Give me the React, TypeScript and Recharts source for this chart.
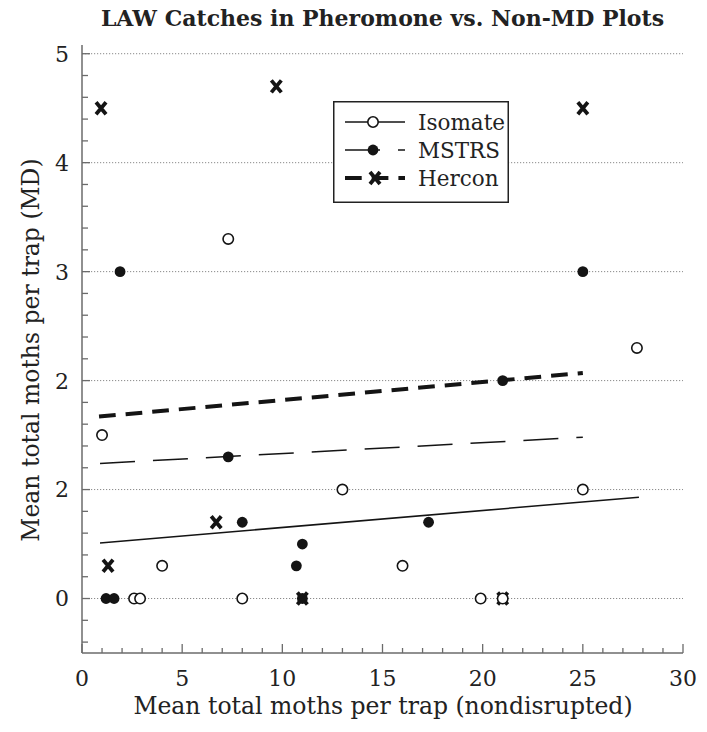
import React from 'react';
import { ScatterChart, Scatter, XAxis, YAxis, ReferenceLine, Legend } from 'recharts';

// ---------- data ----------
const isomateX = [1.0, 7.3, 4.0, 2.6, 2.9, 8.0, 13.0, 16.0, 19.9, 21.0, 25.0, 27.7];
const isomateY = [1.5, 3.3, 0.3, 0, 0, 0, 1.0, 0.3, 0, 0, 1.0, 2.3];

const mstrsX = [1.9, 1.2, 1.6, 7.3, 8.0, 11.0, 10.7, 17.3, 21.0, 25.0, 11.0];
const mstrsY = [3.0, 0, 0, 1.3, 0.7, 0.5, 0.3, 0.7, 2.0, 3.0, 0];

const herconX = [0.95, 9.7, 25.0, 1.3, 6.7, 11.0, 21.0];
const herconY = [4.5, 4.7, 4.5, 0.3, 0.7, 0, 0];

// fitted (regression) line end points
const isomateFitX = [0.9, 27.8];
const isomateFitY = [0.51, 0.93];
const mstrsFitX = [0.9, 25.0];
const mstrsFitY = [1.24, 1.48];
const herconFitX = [0.85, 25.0];
const herconFitY = [1.67, 2.07];

const seriesNames = ['Isomate', 'MSTRS', 'Hercon'];

const xDomain = [0, 30];
const yDomain = [-0.5, 5.08];
const xMajorTicks = [0, 5, 10, 15, 20, 25, 30];
const xTickLabels = ['0', '5', '10', '15', '20', '25', '30'];
const yMajorTicks = [0, 1, 2, 3, 4, 5];
const yTickLabels = ['0', '2', '2', '3', '4', '5'];
const gridValues = [0, 1, 2, 3, 4, 5];

const titleText = 'LAW Catches in Pheromone vs. Non-MD Plots';
const xTitle = 'Mean total moths per trap (nondisrupted)';
const yTitle = 'Mean total moths per trap (MD)';

// minor tick positions
const xTicks = Array.from({ length: 31 }, (_, i) => i);
const yTicks = Array.from({ length: 28 }, (_, i) => Math.round((-0.4 + i * 0.2) * 10) / 10);

const toPoints = (xs: number[], ys: number[]) => xs.map((x, i) => ({ x, y: ys[i] }));

const FONT = "'DejaVu Serif', serif";
const FRAME = '#6b6b6b';
const INK = '#141414';
const TEXT = '#222';

const isInt = (v: number) => Math.abs(v - Math.round(v)) < 1e-6;

const Y_MARGIN = 13;
const X_MARGIN = 20;

const LeftTick = (props: any) => {
  const { x, y, payload } = props;
  const v = payload.value;
  const major = isInt(v);
  const axisX = x + Y_MARGIN;
  const idx = yMajorTicks.indexOf(Math.round(v));
  return (
    <g>
      <line x1={axisX} x2={axisX + (major ? 8 : 6)} y1={y} y2={y} stroke={FRAME} strokeWidth={1.3} />
      {major && idx >= 0 && (
        <text x={x} y={y} dy="0.36em" textAnchor="end" fontFamily={FONT} fontSize={22} fill={TEXT}>
          {yTickLabels[idx]}
        </text>
      )}
    </g>
  );
};

const RightTick = (props: any) => {
  const { x, y, payload } = props;
  const major = isInt(payload.value);
  return <line x1={x} x2={x - (major ? 8 : 6)} y1={y} y2={y} stroke={FRAME} strokeWidth={1.3} />;
};

const BottomTick = (props: any) => {
  const { x, y, payload } = props;
  const v = payload.value;
  const idx = xMajorTicks.indexOf(v);
  const major = idx >= 0;
  const axisY = y - X_MARGIN;
  return (
    <g>
      <line x1={x} x2={x} y1={axisY} y2={axisY - (major ? 9 : 5)} stroke={FRAME} strokeWidth={1.3} />
      {major && (
        <text x={x} y={axisY + 33} textAnchor="middle" fontFamily={FONT} fontSize={22} fill={TEXT}>
          {xTickLabels[idx]}
        </text>
      )}
    </g>
  );
};

const TopTick = (props: any) => {
  const { x, y, payload } = props;
  const major = xMajorTicks.indexOf(payload.value) >= 0;
  return <line x1={x} x2={x} y1={y} y2={y + (major ? 9 : 5)} stroke={FRAME} strokeWidth={1.3} />;
};

const OpenCircle = (props: any) => {
  const { cx, cy } = props;
  return <circle cx={cx} cy={cy} r={5.2} fill="#fff" stroke={INK} strokeWidth={1.6} />;
};

const FilledCircle = (props: any) => {
  const { cx, cy } = props;
  return <circle cx={cx} cy={cy} r={5.4} fill={INK} stroke="none" />;
};

const XMark = (props: any) => {
  const { cx, cy } = props;
  return (
    <path
      d={`M${cx - 5},${cy - 6} L${cx + 5},${cy + 6} M${cx + 5},${cy - 6} L${cx - 5},${cy + 6}`}
      stroke={INK}
      strokeWidth={3.8}
      fill="none"
    />
  );
};

const NoShape = () => <g />;

const LegendBox = () => {
  const rows = [21, 49, 77];
  return (
    <svg width={176} height={102} style={{ display: 'block' }}>
      <rect x={0.75} y={0.75} width={174.5} height={100.5} fill="#fff" stroke="#222" strokeWidth={1.5} />
      {/* Isomate */}
      <line x1={12} x2={72} y1={rows[0]} y2={rows[0]} stroke={INK} strokeWidth={1.5} />
      <circle cx={40} cy={rows[0]} r={5.2} fill="#fff" stroke={INK} strokeWidth={1.6} />
      {/* MSTRS */}
      <line x1={12} x2={72} y1={rows[1]} y2={rows[1]} stroke={INK} strokeWidth={1.5} strokeDasharray="35 18" />
      <circle cx={40} cy={rows[1]} r={5.4} fill={INK} />
      {/* Hercon */}
      <line x1={12} x2={72} y1={rows[2]} y2={rows[2]} stroke={INK} strokeWidth={4} strokeDasharray="16.7 10" />
      <path
        d={`M${37},${rows[2] - 6} L${47},${rows[2] + 6} M${47},${rows[2] - 6} L${37},${rows[2] + 6}`}
        stroke={INK}
        strokeWidth={3.8}
      />
      {seriesNames.map((n, i) => (
        <text key={n} x={85} y={rows[i] + 7.5} fontFamily={FONT} fontSize={21.5} fill={TEXT}>
          {n}
        </text>
      ))}
    </svg>
  );
};

export default function App() {
  return (
    <div style={{ position: 'absolute', left: 0, top: 0 }}>
      <ScatterChart width={707} height={732} margin={{ top: 45, right: 24, bottom: 0, left: 0 }}>
        <XAxis
          xAxisId="b"
          type="number"
          dataKey="x"
          domain={xDomain}
          allowDataOverflow
          ticks={xTicks}
          interval={0}
          tickSize={0}
          tickMargin={X_MARGIN}
          tickLine={false}
          tick={<BottomTick />}
          axisLine={{ stroke: FRAME, strokeWidth: 1.5 }}
          height={79}
        />
        <XAxis
          xAxisId="t"
          orientation="top"
          type="number"
          dataKey="x"
          domain={xDomain}
          allowDataOverflow
          ticks={xTicks}
          interval={0}
          tickSize={0}
          tickMargin={0}
          tickLine={false}
          tick={<TopTick />}
          axisLine={{ stroke: FRAME, strokeWidth: 1.5 }}
          height={0}
        />
        <YAxis
          yAxisId="l"
          type="number"
          dataKey="y"
          domain={yDomain}
          allowDataOverflow
          ticks={yTicks}
          interval={0}
          tickSize={0}
          tickMargin={Y_MARGIN}
          tickLine={false}
          tick={<LeftTick />}
          axisLine={{ stroke: FRAME, strokeWidth: 1.5 }}
          width={82}
        />
        <YAxis
          yAxisId="r"
          orientation="right"
          type="number"
          dataKey="y"
          domain={yDomain}
          allowDataOverflow
          ticks={yTicks}
          interval={0}
          tickSize={0}
          tickMargin={0}
          tickLine={false}
          tick={<RightTick />}
          axisLine={{ stroke: FRAME, strokeWidth: 1.5 }}
          width={0}
        />
        {gridValues.map((g) => (
          <ReferenceLine
            key={g}
            y={g}
            xAxisId="b"
            yAxisId="l"
            stroke="#8a8a8a"
            strokeWidth={1}
            strokeDasharray="1.2 1.8"
          />
        ))}
        <Scatter
          name="Isomate fit"
          xAxisId="t"
          yAxisId="r"
          data={toPoints(isomateFitX, isomateFitY)}
          shape={<NoShape />}
          line={{ stroke: INK, strokeWidth: 1.5 }}
          legendType="none"
          isAnimationActive={false}
        />
        <Scatter
          name="MSTRS fit"
          xAxisId="t"
          yAxisId="r"
          data={toPoints(mstrsFitX, mstrsFitY)}
          shape={<NoShape />}
          line={{ stroke: INK, strokeWidth: 1.5, strokeDasharray: '35 18' }}
          legendType="none"
          isAnimationActive={false}
        />
        <Scatter
          name="Hercon fit"
          xAxisId="t"
          yAxisId="r"
          data={toPoints(herconFitX, herconFitY)}
          shape={<NoShape />}
          line={{ stroke: INK, strokeWidth: 4, strokeDasharray: '16.7 10' }}
          legendType="none"
          isAnimationActive={false}
        />
        <Scatter
          name={seriesNames[2]}
          xAxisId="b"
          yAxisId="l"
          data={toPoints(herconX, herconY)}
          shape={<XMark />}
          isAnimationActive={false}
        />
        <Scatter
          name={seriesNames[1]}
          xAxisId="b"
          yAxisId="l"
          data={toPoints(mstrsX, mstrsY)}
          shape={<FilledCircle />}
          isAnimationActive={false}
        />
        <Scatter
          name={seriesNames[0]}
          xAxisId="b"
          yAxisId="l"
          data={toPoints(isomateX, isomateY)}
          shape={<OpenCircle />}
          isAnimationActive={false}
        />
        <Legend
          verticalAlign="middle"
          align="center"
          layout="horizontal"
          wrapperStyle={{ left: 333, top: 101, width: 176, height: 102 }}
          content={() => <LegendBox />}
        />
        <text x={382.5} y={26} textAnchor="middle" fontFamily={FONT} fontWeight="bold" fontSize={22} fill={TEXT}>
          {titleText}
        </text>
        <text x={383} y={714} textAnchor="middle" fontFamily={FONT} fontSize={23.5} fill={TEXT}>
          {xTitle}
        </text>
        <text transform="translate(39, 350) rotate(-90)" textAnchor="middle" fontFamily={FONT} fontSize={23.5} fill={TEXT}>
          {yTitle}
        </text>
      </ScatterChart>
    </div>
  );
}
